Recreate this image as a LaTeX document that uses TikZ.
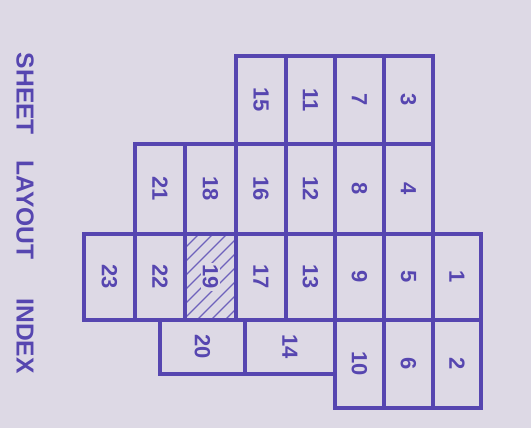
\documentclass[tikz,border=0pt]{standalone}
\usepackage{fontspec}
\setmainfont{Liberation Sans}
\usepackage{xcolor}
\usetikzlibrary{positioning}
\definecolor{ink}{RGB}{86,70,176}
\definecolor{paper}{RGB}{221,217,229}
\tikzset{
  sheetline/.style={draw=ink, line width=2.1pt, line join=miter},
  sheetnum/.style={text=ink, font=\fontsize{12.5}{14}\selectfont\bfseries, rotate=-90, inner sep=1pt},
  titleword/.style={text=ink, font=\fontsize{14}{16}\selectfont\bfseries, rotate=-90, inner sep=0pt},
  hatchline/.style={draw=ink!85, line width=0.8pt},
}

\begin{document}
\begin{tikzpicture}[x=0.02cm, y=-0.02cm]
\fill[paper] (0,0) rectangle (531,428);
\useasboundingbox (0,0) rectangle (531,428);

% hatching of the current sheet
\begin{scope}
  \clip (185,234) rectangle (236,320);
  \foreach \hx in {185,199,...,340}
    \draw[hatchline] (\hx-100,320) -- ++(100,-100);
\end{scope}

% sheets: left/top/right/bottom/number
\foreach \xa/\ya/\xb/\yb/\num in {
    236/56/286/144/15, 286/56/335/144/11, 335/56/384/144/7, 384/56/433/144/3,
    135/144/185/234/21, 185/144/236/234/18, 236/144/286/234/16, 286/144/335/234/12,
    335/144/384/234/8, 384/144/433/234/4,
    84/234/135/320/23, 135/234/185/320/22, 185/234/236/320/19, 236/234/286/320/17,
    286/234/335/320/13, 335/234/384/320/9, 384/234/433/320/5, 433/234/481/320/1,
    160/320/245/374/20, 245/320/335/374/14,
    335/320/384/408/10, 384/320/433/408/6, 433/320/481/408/2}
{
  \draw[sheetline] (\xa,\ya) rectangle (\xb,\yb);
  \node[sheetnum, fill=paper] (s\num) at ({(\xa+\xb)/2},{(\ya+\yb)/2}) {\num};
}

\node[titleword] (t1) at (25,94) {SHEET};
\node[titleword] (t2) at (25,210) {LAYOUT};
\node[titleword] (t3) at (25,336) {INDEX};
\end{tikzpicture}
\end{document}
